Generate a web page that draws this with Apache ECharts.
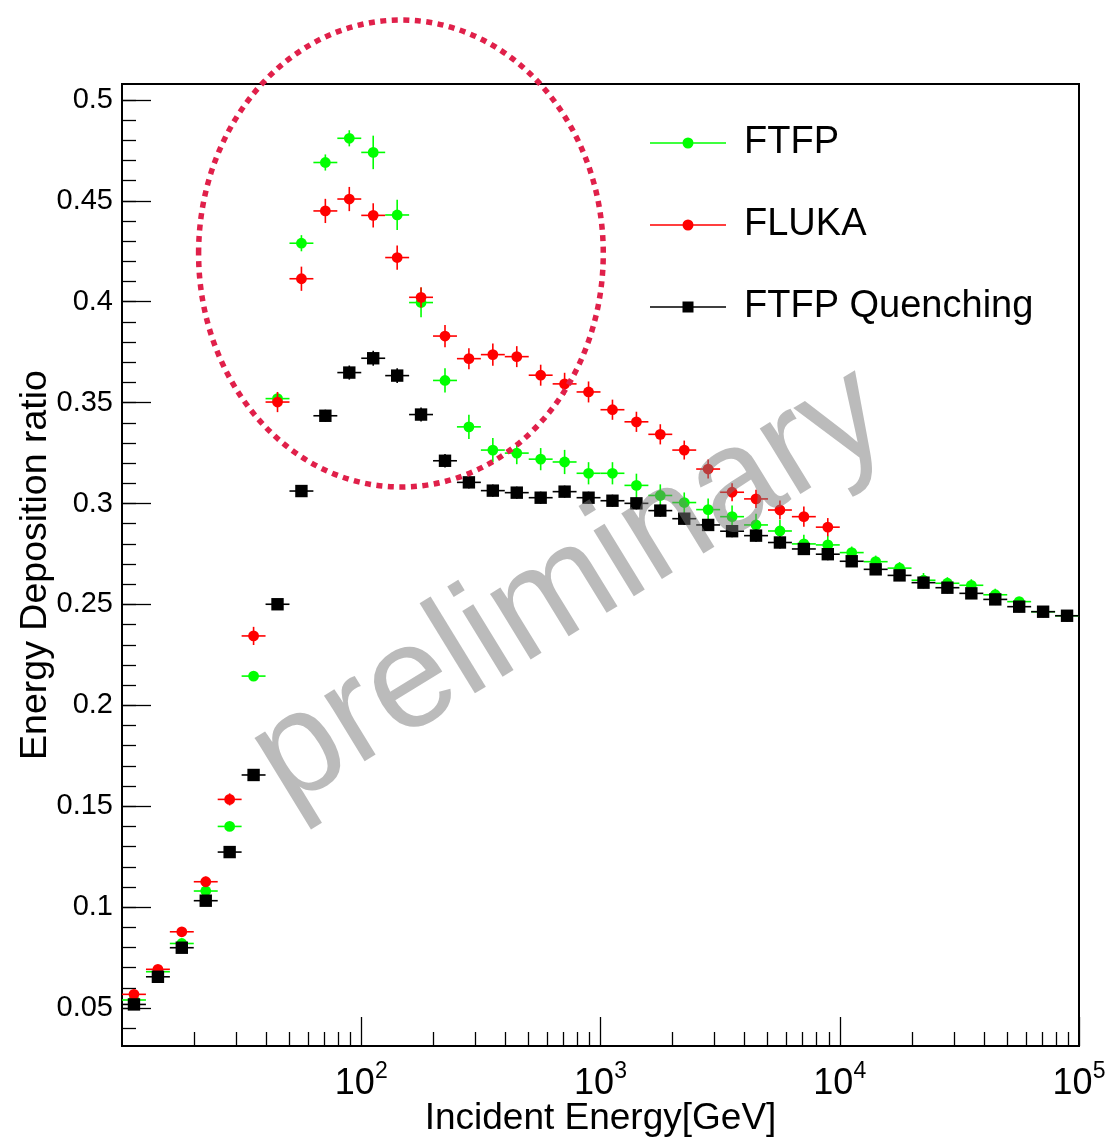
<!DOCTYPE html>
<html>
<head>
<meta charset="utf-8">
<script src="https://cdn.jsdelivr.net/npm/echarts@6/dist/echarts.min.js"></script>
<style>
html,body{margin:0;padding:0;background:#fff;}
#chart{width:1111px;height:1140px;}
</style>
</head>
<body>
<div id="chart"></div>
<script>
// ---- data (bin centres of 40 log bins from 10 GeV to 100 TeV) ----
const energies = [11.22, 14.13, 17.78, 22.39, 28.18, 35.48, 44.67, 56.23, 70.79, 89.13,
  112.2, 141.3, 177.8, 223.9, 281.8, 354.8, 446.7, 562.3, 707.9, 891.3,
  1122, 1413, 1778, 2239, 2818, 3548, 4467, 5623, 7079, 8913,
  11220, 14130, 17780, 22390, 28180, 35480, 44670, 56230, 70790, 89130];

const ftfp = [0.054, 0.068, 0.082, 0.108, 0.140, 0.2145, 0.352, 0.429, 0.469, 0.481,
  0.474, 0.443, 0.3996, 0.361, 0.338, 0.3265, 0.325, 0.322, 0.3206, 0.315,
  0.315, 0.309, 0.304, 0.3005, 0.297, 0.2935, 0.2894, 0.2864, 0.280, 0.2795,
  0.2757, 0.2712, 0.268, 0.262, 0.2605, 0.2595, 0.2548, 0.2514, 0.2464, 0.2444];
const ftfpErr = [0.001, 0.001, 0.001, 0.0015, 0.0015, 0.002, 0.003, 0.004, 0.004, 0.004,
  0.0083, 0.0075, 0.0073, 0.006, 0.006, 0.006, 0.0055, 0.0055, 0.006, 0.0055,
  0.0055, 0.0058, 0.0055, 0.005, 0.0055, 0.0055, 0.0055, 0.0055, 0.0045, 0.0045,
  0.003, 0.003, 0.003, 0.0036, 0.003, 0.003, 0.003, 0.002, 0.002, 0.002];

const fluka = [0.0568, 0.0692, 0.0878, 0.1126, 0.1534, 0.2344, 0.3503, 0.4114, 0.445, 0.4509,
  0.4428, 0.4219, 0.4022, 0.383, 0.3718, 0.3738, 0.3728, 0.3636, 0.3593, 0.3553,
  0.3465, 0.3405, 0.3343, 0.3265, 0.3171, 0.3056, 0.3023, 0.2968, 0.2935, 0.2883];
const flukaErr = [0.001, 0.0015, 0.002, 0.0025, 0.003, 0.0045, 0.005, 0.006, 0.006, 0.006,
  0.006, 0.006, 0.005, 0.0055, 0.0052, 0.0055, 0.0052, 0.0052, 0.0055, 0.0052,
  0.005, 0.005, 0.005, 0.0047, 0.0047, 0.0045, 0.0045, 0.0047, 0.005, 0.0045];

const quench = [0.0518, 0.0655, 0.0799, 0.1032, 0.1273, 0.1655, 0.2501, 0.3062, 0.3435, 0.3649,
  0.372, 0.3634, 0.3441, 0.3212, 0.3105, 0.3064, 0.3054, 0.3029, 0.3059, 0.3029,
  0.3014, 0.3001, 0.2965, 0.2925, 0.2894, 0.2863, 0.2841, 0.2807, 0.2775, 0.2749,
  0.2714, 0.2674, 0.2644, 0.2608, 0.2583, 0.2555, 0.2525, 0.2489, 0.2464, 0.2444];
const quenchErr = [0.001, 0.001, 0.001, 0.001, 0.001, 0.001, 0.002, 0.0025, 0.003, 0.0035,
  0.0037, 0.0037, 0.0035, 0.0033, 0.003, 0.003, 0.003, 0.003, 0.003, 0.003,
  0.003, 0.003, 0.003, 0.003, 0.003, 0.003, 0.003, 0.003, 0.003, 0.003,
  0.0028, 0.0028, 0.0028, 0.0028, 0.0028, 0.0028, 0.0028, 0.0028, 0.0028, 0.0028];

const seriesNames = ['FTFP', 'FLUKA', 'FTFP Quenching'];
const yTickValues = [0.05, 0.1, 0.15, 0.2, 0.25, 0.3, 0.35, 0.4, 0.45, 0.5];
const yTickLabels = ['0.05', '0.1', '0.15', '0.2', '0.25', '0.3', '0.35', '0.4', '0.45', '0.5'];
const xTickValues = [100, 1000, 10000, 100000];
const xTickExponents = ['2', '3', '4', '5'];
const xTitle = 'Incident Energy[GeV]';
const yTitle = 'Energy Deposition ratio';
const watermark = 'preliminary';
// highlighted region (energy range, ratio range) of the dotted ellipse
const ellipseRegion = [[20.9, 1027, 0.3082, 0.5396]];

// ---- helpers ----
const FONT = '"Liberation Sans", Arial, Helvetica, sans-serif';
const minorY = [];
for (let i = 4; i <= 50; i++) minorY.push(Math.round(i) / 100);
const minorX = [];
for (let d = 10; d <= 10000; d *= 10) for (let k = 2; k <= 9; k++) minorX.push(k * d);

const binHalf = Math.pow(10, 0.05);
function errRender(marker) {
  return function (params, api) {
    const E = api.value(0), v = api.value(1), e = api.value(2);
    const c = api.coord([E, v]);
    const l = api.coord([E / binHalf, v]);
    const r = api.coord([E * binHalf, v]);
    const t = api.coord([E, v + e]);
    const b = api.coord([E, v - e]);
    const col = api.visual('color');
    const ls = { stroke: col, lineWidth: 1.6 };
    const mk = marker === 'circle'
      ? { type: 'circle', shape: { cx: c[0], cy: c[1], r: 5.4 }, style: { fill: col } }
      : { type: 'rect', shape: { x: c[0] - 6.2, y: c[1] - 6.2, width: 12.4, height: 12.4 }, style: { fill: col } };
    return {
      type: 'group',
      children: [
        { type: 'line', shape: { x1: l[0], y1: c[1], x2: r[0], y2: c[1] }, style: ls },
        { type: 'line', shape: { x1: c[0], y1: t[1], x2: c[0], y2: b[1] }, style: ls },
        mk
      ]
    };
  };
}
function build(vals, errs) {
  return vals.map((v, i) => [energies[i], v, errs[i]]);
}

const circleIcon = 'path://M0,5.3H76V6.7H0Z M32.5,6A5.5,5.5,0,1,1,43.5,6A5.5,5.5,0,1,1,32.5,6Z';
const squareIcon = 'path://M0,5.3H76V6.7H0Z M32.5,0.5H43.5V11.5H32.5Z';

const chart = echarts.init(document.getElementById('chart'), null, { renderer: 'canvas' });
const option = {
  animation: false,
  backgroundColor: '#fff',
  textStyle: { fontFamily: FONT },
  grid: { left: 122, right: 32, top: 84, bottom: 94, show: true, borderColor: '#000', borderWidth: 2,
    backgroundColor: 'transparent', containLabel: false, outerBoundsMode: 'none' },
  legend: {
    orient: 'vertical', left: 650, top: 121, padding: 0,
    itemWidth: 76, itemHeight: 11, itemGap: 38,
    selectedMode: false,
    data: [
      { name: seriesNames[0], icon: circleIcon },
      { name: seriesNames[1], icon: circleIcon },
      { name: seriesNames[2], icon: squareIcon }
    ],
    textStyle: { fontSize: 38, lineHeight: 44, color: '#000', fontFamily: FONT, padding: [0, 0, 0, 13] }
  },
  xAxis: [
    {
      type: 'log', logBase: 10, min: 10, max: 100000, position: 'bottom',
      name: xTitle, nameLocation: 'middle', nameGap: 54, nameMoveOverlap: false,
      nameTextStyle: { fontSize: 37, color: '#000', fontFamily: FONT },
      axisLine: { show: true, lineStyle: { color: '#000', width: 2 } },
      axisTick: { show: true, inside: true, length: 29, customValues: xTickValues, lineStyle: { color: '#000', width: 1.3 } },
      axisLabel: {
        show: true, customValues: xTickValues, margin: 14,
        formatter: function (val) {
          const exp = Math.round(Math.log10(val));
          const idx = xTickValues.findIndex(t => Math.round(Math.log10(t)) === exp);
          return '{b|10}{s|' + (idx >= 0 ? xTickExponents[idx] : exp) + '}';
        },
        rich: {
          b: { fontSize: 36, lineHeight: 36, padding: [13, 0, 0, 0], color: '#000', fontFamily: FONT },
          s: { fontSize: 23, lineHeight: 23, verticalAlign: 'top', color: '#000', fontFamily: FONT }
        }
      },
      splitLine: { show: false }
    },
    {
      type: 'log', logBase: 10, min: 10, max: 100000, position: 'bottom',
      axisLine: { show: false },
      axisLabel: { show: false },
      axisTick: { show: true, inside: true, length: 14, customValues: minorX, lineStyle: { color: '#000', width: 1.3 } },
      splitLine: { show: false }
    }
  ],
  yAxis: [
    {
      type: 'value', min: 0.0312, max: 0.5079, position: 'left',
      name: yTitle, nameLocation: 'middle', nameGap: 67, nameRotate: 90, nameMoveOverlap: false,
      nameTextStyle: { fontSize: 37.5, color: '#000', fontFamily: FONT },
      axisLine: { show: true, lineStyle: { color: '#000', width: 2 } },
      axisTick: { show: true, inside: true, length: 29, customValues: yTickValues, lineStyle: { color: '#000', width: 1.3 } },
      axisLabel: {
        show: true, customValues: yTickValues, margin: 9, fontSize: 29, color: '#000', fontFamily: FONT,
        formatter: function (val) {
          const idx = yTickValues.findIndex(t => Math.abs(t - val) < 1e-9);
          return idx >= 0 ? yTickLabels[idx] : '';
        }
      },
      splitLine: { show: false }
    },
    {
      type: 'value', min: 0.0312, max: 0.5079, position: 'left',
      axisLine: { show: false },
      axisLabel: { show: false },
      axisTick: { show: true, inside: true, length: 14, customValues: minorY, lineStyle: { color: '#000', width: 1.3 } },
      splitLine: { show: false }
    }
  ],
  series: [
    {
      type: 'custom', name: seriesNames[0], xAxisIndex: 0, yAxisIndex: 0,
      itemStyle: { color: '#00ff00' }, encode: { x: 0, y: 1 }, clip: true, z: 2,
      renderItem: errRender('circle'), data: build(ftfp, ftfpErr)
    },
    {
      type: 'custom', name: seriesNames[1], xAxisIndex: 0, yAxisIndex: 0,
      itemStyle: { color: '#ff0000' }, encode: { x: 0, y: 1 }, clip: true, z: 3,
      renderItem: errRender('circle'), data: build(fluka, flukaErr)
    },
    {
      type: 'custom', name: seriesNames[2], xAxisIndex: 0, yAxisIndex: 0,
      itemStyle: { color: '#000000' }, encode: { x: 0, y: 1 }, clip: true, z: 4,
      renderItem: errRender('square'), data: build(quench, quenchErr)
    },
    {
      type: 'custom', name: 'region', xAxisIndex: 0, yAxisIndex: 0, silent: true, clip: false, z: 5,
      encode: { x: [0, 1], y: [2, 3] },
      data: ellipseRegion,
      renderItem: function (params, api) {
        const a = api.coord([api.value(0), api.value(2)]);
        const b = api.coord([api.value(1), api.value(3)]);
        return {
          type: 'ellipse',
          shape: { cx: (a[0] + b[0]) / 2, cy: (a[1] + b[1]) / 2, rx: Math.abs(b[0] - a[0]) / 2, ry: Math.abs(b[1] - a[1]) / 2 },
          style: { fill: 'none', stroke: '#e0204a', lineWidth: 5.5, lineDash: [6, 5.5] }
        };
      }
    }
  ],
  graphic: [
    {
      type: 'text', x: 570, y: 588, rotation: 31.5 * Math.PI / 180, z: 100, silent: true,
      style: {
        text: watermark, fontSize: 146, fontFamily: FONT,
        fill: 'rgba(120,120,120,0.5)', align: 'center', verticalAlign: 'middle',
        textAlign: 'center', textVerticalAlign: 'middle'
      }
    }
  ]
};
chart.setOption(option);
</script>
</body>
</html>
